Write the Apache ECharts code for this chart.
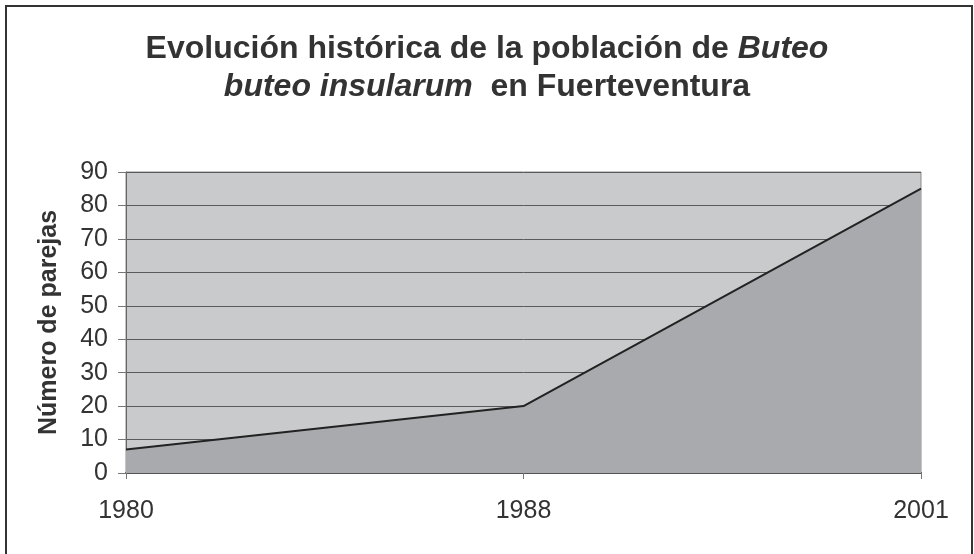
<!DOCTYPE html>
<html>
<head>
<meta charset="utf-8">
<script src="https://cdn.jsdelivr.net/npm/echarts@6/dist/echarts.min.js"></script>
<style>
  html, body { margin: 0; padding: 0; background: #fff; }
  #chart { width: 974px; height: 554px; }
</style>
</head>
<body>
<div id="chart"></div>
<script>
// data
const years = ['1980', '1988', '2001'];
const parejas = [7, 20, 85];
const yTicks = [0, 90, 10]; // min, max, interval

const chart = echarts.init(document.getElementById('chart'));

const option = {
  backgroundColor: '#fff',
  textStyle: { fontFamily: 'Liberation Sans, Arial, sans-serif' },
  title: {
    left: 'center',
    top: 25,
    text: '{n|Evolución histórica de la población de }{i|Buteo}\n{i|buteo insularum}{n|  en Fuerteventura}',
    textStyle: {
      rich: {
        n: { fontSize: 32, fontWeight: 'bold', color: '#333', lineHeight: 38, fontFamily: 'Liberation Sans' },
        i: { fontSize: 32, fontWeight: 'bold', fontStyle: 'italic', color: '#333', lineHeight: 38, fontFamily: 'Liberation Sans' }
      }
    }
  },
  graphic: [{
    type: 'rect',
    shape: { x: 6, y: 6, width: 966, height: 560 },
    style: { fill: 'none', stroke: '#333', lineWidth: 2 },
    silent: true
  }],
  grid: {
    left: 126, right: 53, top: 172, bottom: 81,
    show: true,
    backgroundColor: '#c9cacc',
    borderColor: '#8a8a8a',
    borderWidth: 1
  },
  xAxis: {
    type: 'category',
    data: years,
    boundaryGap: false,
    axisLine: { lineStyle: { color: '#555', width: 2 } },
    axisTick: { show: true, length: 6, lineStyle: { color: '#777' } },
    axisLabel: { fontSize: 25, color: '#333', margin: 26 },
    splitLine: { show: false }
  },
  yAxis: {
    type: 'value',
    min: yTicks[0], max: yTicks[1], interval: yTicks[2],
    name: 'Número de parejas',
    nameLocation: 'middle',
    nameRotate: 90,
    nameGap: 64,
    nameTextStyle: { fontSize: 25, fontWeight: 'bold', color: '#333' },
    axisLine: { show: true, lineStyle: { color: '#666', width: 1 } },
    axisTick: { show: true, length: 8, lineStyle: { color: '#777' } },
    axisLabel: { fontSize: 25, color: '#333', margin: 18 },
    splitLine: { show: true, lineStyle: { color: '#5a5a5a', width: 1 } }
  },
  series: [{
    type: 'line',
    data: parejas,
    symbol: 'none',
    lineStyle: { color: '#222', width: 2 },
    areaStyle: { color: '#a9aaad', opacity: 1 },
    z: 3
  }]
};

chart.setOption(option);
</script>
</body>
</html>
